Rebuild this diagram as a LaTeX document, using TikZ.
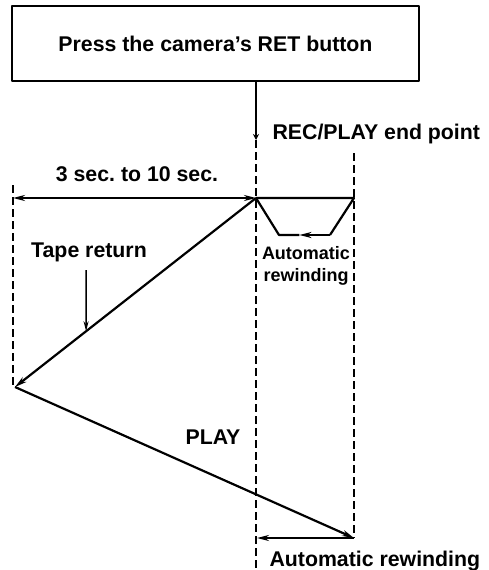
\documentclass[tikz,border=0pt]{standalone}
\usepackage{fontspec}
\setmainfont{Liberation Sans}
\usetikzlibrary{arrows.meta,calc}

\begin{document}
\frenchspacing
\begin{tikzpicture}[
    x=1pt, y=-1pt,
    line join=round,
    font=\bfseries\fontsize{21.3}{25}\selectfont
]

% ---------------------------------------------------------
% 1. FIXED FRAME (same size as the reference page)
% ---------------------------------------------------------
\path [use as bounding box] (0,0) rectangle (488,570);

\tikzset{tape line/.style={line width=2.2pt}}
\tikzset{tape arrow/.style={tape line, -{Stealth[length=12pt,width=6pt]}}}
\tikzset{guide line/.style={line width=2.2pt, dash pattern=on 8pt off 4pt}}

% Button box
\node[draw, line width=2pt, minimum width=407pt, minimum height=75pt]
    (button) at (215.5,43.5) {Press the camera's RET button};

% Key points of the tape path
\coordinate (stem) at (256,140);   % end of the lead from the box
\coordinate (E)    at (256,198);   % REC/PLAY end point
\coordinate (R)    at (354,198);   % forward end of the rewind loop
\coordinate (T1)   at (279,235);   % bottom left of the loop
\coordinate (T2)   at (330,235);   % bottom right of the loop
\coordinate (L)    at (15,387);    % turn after tape return
\coordinate (P)    at (354,538);   % end of play
\coordinate (B)    at (257,538);   % back at the end point line

% Dashed guides
\coordinate (G1) at (13,185);
\coordinate (G2) at (13,387);
\coordinate (G3) at (256,570);
\coordinate (G4) at (354,153);
\draw[guide line] (G1) -- (G2);
\draw[guide line] (stem) -- (G3);
\draw[guide line] (G4) -- (P);

% ---------------------------------------------------------
% 2. TAPE PATH
% ---------------------------------------------------------
\draw[tape line, -{Stealth[length=6pt,width=6pt]}] (button.south -| stem) -- (stem);

% 3 sec. to 10 sec.
\coordinate (H) at (13,198);
\draw[tape line, {Stealth[length=12pt,width=6pt]}-{Stealth[length=12pt,width=6pt]}] (H) -- (E);

% Automatic rewinding loop at the end point
\coordinate (M) at ($(T2)!0.6!(T1)$);
\draw[tape line] (E) -- (R) -- (T2);
\draw[tape arrow] (T2) -- (M);
\draw[tape line] (M) -- (T1) -- (E);

% Tape return, play and the final rewinding
\draw[tape arrow] (E) -- (L);
\draw[tape arrow] (L) -- (P);
\draw[tape arrow] (P) -- (B);

% Pointer to the tape return line
\coordinate (TR) at ($(E)!0.705!(L)$);
\coordinate (TRtop) at (86,270);
\draw[line width=1.5pt, -{Stealth[length=10pt,width=5pt]}] (TRtop) -- (TR);

% Labels
\node[anchor=west] (endlabel) at (269,134) {REC/PLAY end point};
\node (span)   at (137,174) {3 sec. to 10 sec.};
\node (ret)    at (89,252)  {Tape return};
\node[align=center, font=\bfseries\fontsize{18}{22}\selectfont]
    (loop) at (306,266) {Automatic\\rewinding};
\node (play)   at (213,437) {PLAY};
\node[anchor=west] (rew) at (266,561) {Automatic rewinding};

\end{tikzpicture}
\end{document}
